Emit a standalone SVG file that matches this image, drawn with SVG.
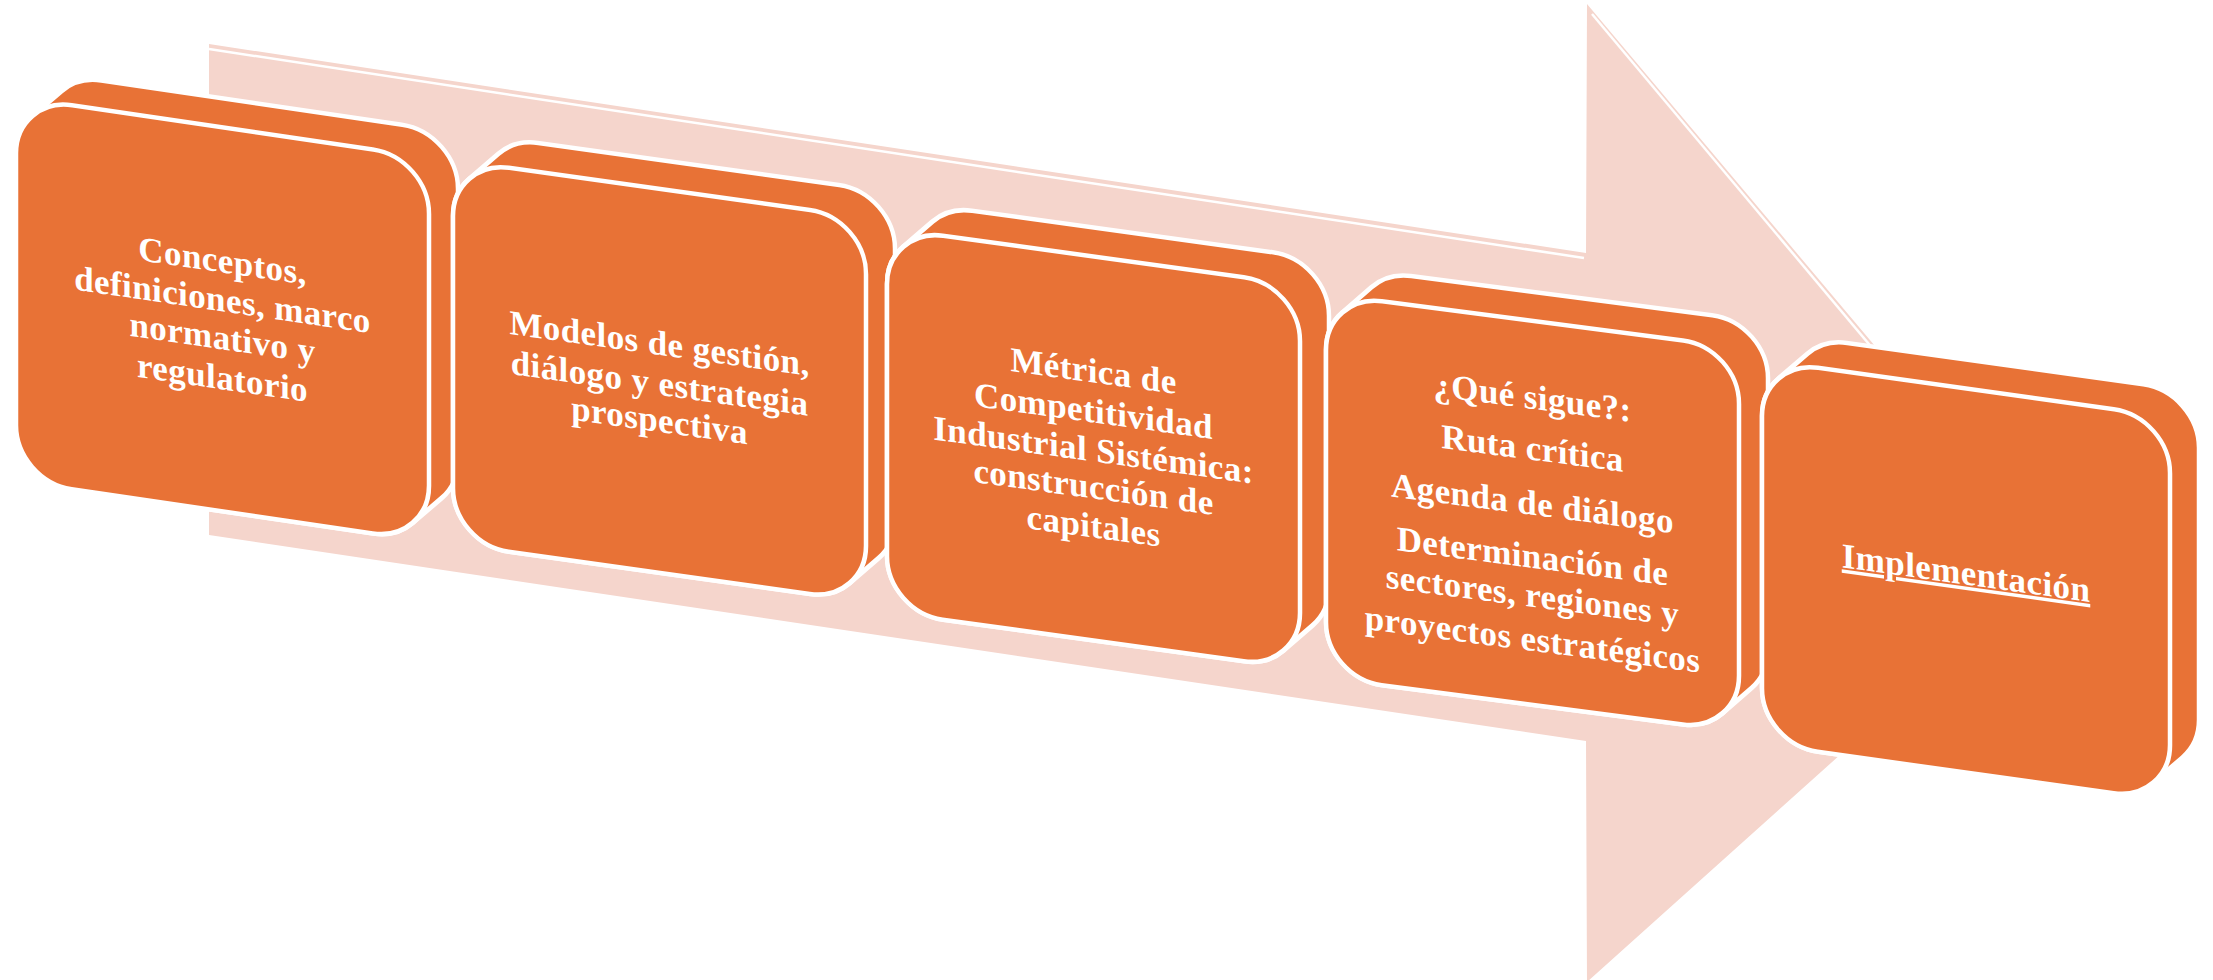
<svg xmlns="http://www.w3.org/2000/svg" xmlns:xlink="http://www.w3.org/1999/xlink" width="2213" height="980" viewBox="0 0 2213 980">
<style>
.hull{fill:#E87236;stroke:#FFFFFF;stroke-width:4.5;stroke-linejoin:round}
.face{fill:#E87236;stroke:#FFFFFF;stroke-width:4.5}
.t{font-family:"Liberation Serif","Times New Roman",serif;font-weight:bold;font-size:35px;fill:#FFFFFF;text-anchor:middle;letter-spacing:0.4px}
.arrow{fill:#F5D5CC}
.hl{fill:none;stroke:#FFFFFF;stroke-width:2.5}
</style>
<defs>
<path id="hullA" d="M 0 328 L 0 56 A 56 56 0 0 1 16.4 16.4 L 45.4 -12.6 A 56 56 0 0 1 85 -29 L 386 -29 A 56 56 0 0 1 442 27 L 442 299 A 56 56 0 0 1 425.6 338.6 L 396.6 367.6 A 56 56 0 0 1 357 384 L 56 384 A 56 56 0 0 1 0 328 Z"/>
<rect id="faceA" x="0" y="0" width="413" height="384" rx="56" ry="56"/>
<path id="hullB" d="M 0 328 L 0 56 A 56 56 0 0 1 16.4 16.4 L 45.4 -12.6 A 56 56 0 0 1 85 -29 L 381 -29 A 56 56 0 0 1 437 27 L 437 299 A 56 56 0 0 1 420.6 338.6 L 391.6 367.6 A 56 56 0 0 1 352 384 L 56 384 A 56 56 0 0 1 0 328 Z"/>
<rect id="faceB" x="0" y="0" width="408" height="384" rx="56" ry="56"/>
</defs>
<rect width="2213" height="980" fill="#FFFFFF"/>
<g id="connectors">
<polygon class="arrow" points="209,44 1586,253 1587,4 2056,561 1587,982 1586,741 209,535"/>
<polyline class="hl" points="209,49 1584,258"/>
<polyline class="hl" points="1592,14 2040,548"/>
</g>
<g id="node1" transform="matrix(1 0.147 0 1 16 97)">
<use xlink:href="#hullA" class="hull"/>
<use xlink:href="#faceA" class="face"/>
<text class="t" x="206.5" y="145">Conceptos,</text>
<text class="t" x="206.5" y="184">definiciones, marco</text>
<text class="t" x="206.5" y="222">normativo y</text>
<text class="t" x="206.5" y="262">regulatorio</text>
</g>
<g id="node2" transform="matrix(1 0.140 0 1 453 160)">
<use xlink:href="#hullA" class="hull"/>
<use xlink:href="#faceA" class="face"/>
<text class="t" x="206.5" y="166">Modelos de gestión,</text>
<text class="t" x="206.5" y="206">diálogo y estrategia</text>
<text class="t" x="206.5" y="243">prospectiva</text>
</g>
<g id="node3" transform="matrix(1 0.138 0 1 887 228)">
<use xlink:href="#hullA" class="hull"/>
<use xlink:href="#faceA" class="face"/>
<text class="t" x="206.5" y="126">Métrica de</text>
<text class="t" x="206.5" y="166">Competitividad</text>
<text class="t" x="206.5" y="205">Industrial Sistémica:</text>
<text class="t" x="206.5" y="242">construcción de</text>
<text class="t" x="206.5" y="281">capitales</text>
</g>
<g id="node4" transform="matrix(1 0.130 0 1 1326 294)">
<use xlink:href="#hullA" class="hull"/>
<use xlink:href="#faceA" class="face"/>
<text class="t" x="206.5" y="88">¿Qué sigue?:</text>
<text class="t" x="206.5" y="139">Ruta crítica</text>
<text class="t" x="206.5" y="194">Agenda de diálogo</text>
<text class="t" x="206.5" y="247">Determinación de</text>
<text class="t" x="206.5" y="286">sectores, regiones y</text>
<text class="t" x="206.5" y="330">proyectos estratégicos</text>
</g>
<g id="node5" transform="matrix(1 0.140 0 1 1762 360)">
<use xlink:href="#hullB" class="hull"/>
<use xlink:href="#faceB" class="face"/>
<text class="t" x="204" y="196" text-decoration="underline">Implementación</text>
</g>
</svg>
